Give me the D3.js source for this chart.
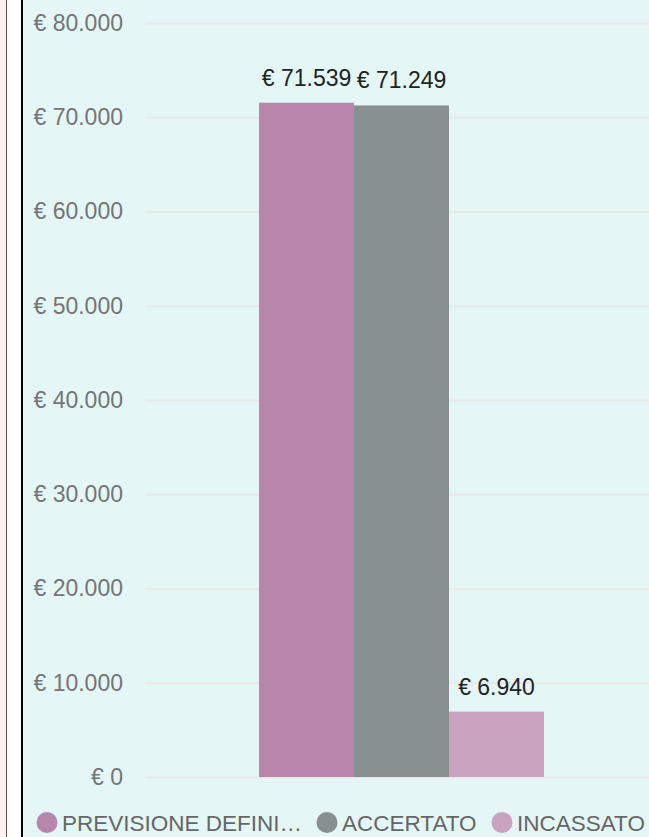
<!DOCTYPE html>
<html>
<head>
<meta charset="utf-8">
<script src="https://cdn.jsdelivr.net/npm/d3@7"></script>
<style>
  * { margin: 0; padding: 0; }
  body { width: 649px; height: 837px; overflow: hidden; background: #fdf1ed; font-family: "Liberation Sans", Arial, sans-serif; }
</style>
</head>
<body>
<script>
    // chart data
    var categories = ["2023"];
    var series = ["PREVISIONE DEFINITIVA", "ACCERTATO", "INCASSATO"];
    var legendLabels = ["PREVISIONE DEFINI\u2026", "ACCERTATO", "INCASSATO"];
    var values = [71539, 71249, 6940];
    var colors = ["#b886ab", "#878f91", "#c9a3c0"];
    var yTicks = [0, 10000, 20000, 30000, 40000, 50000, 60000, 70000, 80000];

    var W = 649, H = 837;
    var fmt = function(v) { return "\u20ac " + d3.format(",")(v).replace(/,/g, "."); };

    var svg = d3.select("body").append("svg")
        .attr("width", W)
        .attr("height", H);

    // page frame at the left edge
    svg.append("rect").attr("x", 6).attr("y", 0).attr("width", 1).attr("height", H).attr("fill", "#555");
    svg.append("rect").attr("x", 7).attr("y", 0).attr("width", 14).attr("height", H).attr("fill", "#fff");
    svg.append("rect").attr("x", 21).attr("y", 0).attr("width", 2).attr("height", H).attr("fill", "#000");
    svg.append("rect").attr("x", 23).attr("y", 0).attr("width", W - 23).attr("height", H).attr("fill", "#e4f6f6");

    var y = d3.scaleLinear().domain([0, 80000]).range([777, 23]);

    var x0 = d3.scaleBand().domain(categories).range([145, 658]).paddingInner(0).paddingOuter(0.4);
    var x1 = d3.scaleBand().domain(series).range([0, x0.bandwidth()]).padding(0);

    // gridlines + y labels
    var yAxis = svg.append("g")
        .attr("transform", "translate(145,0)")
        .call(d3.axisLeft(y).tickValues(yTicks).tickSize(-(W - 145)).tickPadding(22).tickFormat(fmt));
    yAxis.select(".domain").remove();
    yAxis.selectAll(".tick line").attr("stroke", "#ebe7e7").attr("stroke-width", 2);
    yAxis.selectAll(".tick text")
        .attr("fill", "#757575")
        .style("font-size", "23px")
        .style("font-family", "Liberation Sans, Arial, sans-serif");

    var g = svg.append("g")
        .attr("transform", "translate(" + x0(categories[0]) + ",0)");

    g.selectAll(".bar")
        .data(values)
        .enter().append("rect")
        .attr("class", "bar")
        .attr("x", function(d, i) { return x1(series[i]); })
        .attr("y", function(d) { return y(d); })
        .attr("width", x1.bandwidth())
        .attr("height", function(d) { return y(0) - y(d); })
        .attr("fill", function(d, i) { return colors[i]; });

    g.selectAll(".val")
        .data(values)
        .enter().append("text")
        .attr("class", "val")
        .attr("x", function(d, i) { return x1(series[i]) + x1.bandwidth() / 2; })
        .attr("y", function(d) { return y(d) - 17; })
        .attr("text-anchor", "middle")
        .attr("fill", "#222")
        .style("font-size", "23px")
        .text(fmt);

    // legend
    var legendX = [37, 317, 492];
    var legend = svg.selectAll(".legend")
        .data(legendLabels)
        .enter().append("g")
        .attr("class", "legend")
        .attr("transform", function(d, i) { return "translate(" + legendX[i] + ",822.5)"; });

    legend.append("circle")
        .attr("cx", 10)
        .attr("cy", 0)
        .attr("r", 10.5)
        .attr("fill", function(d, i) { return colors[i]; });

    legend.append("text")
        .attr("x", 25)
        .attr("y", 8.5)
        .attr("fill", "#666")
        .style("font-size", "22.5px")
        .text(function(d) { return d; });
</script>
</body>
</html>
